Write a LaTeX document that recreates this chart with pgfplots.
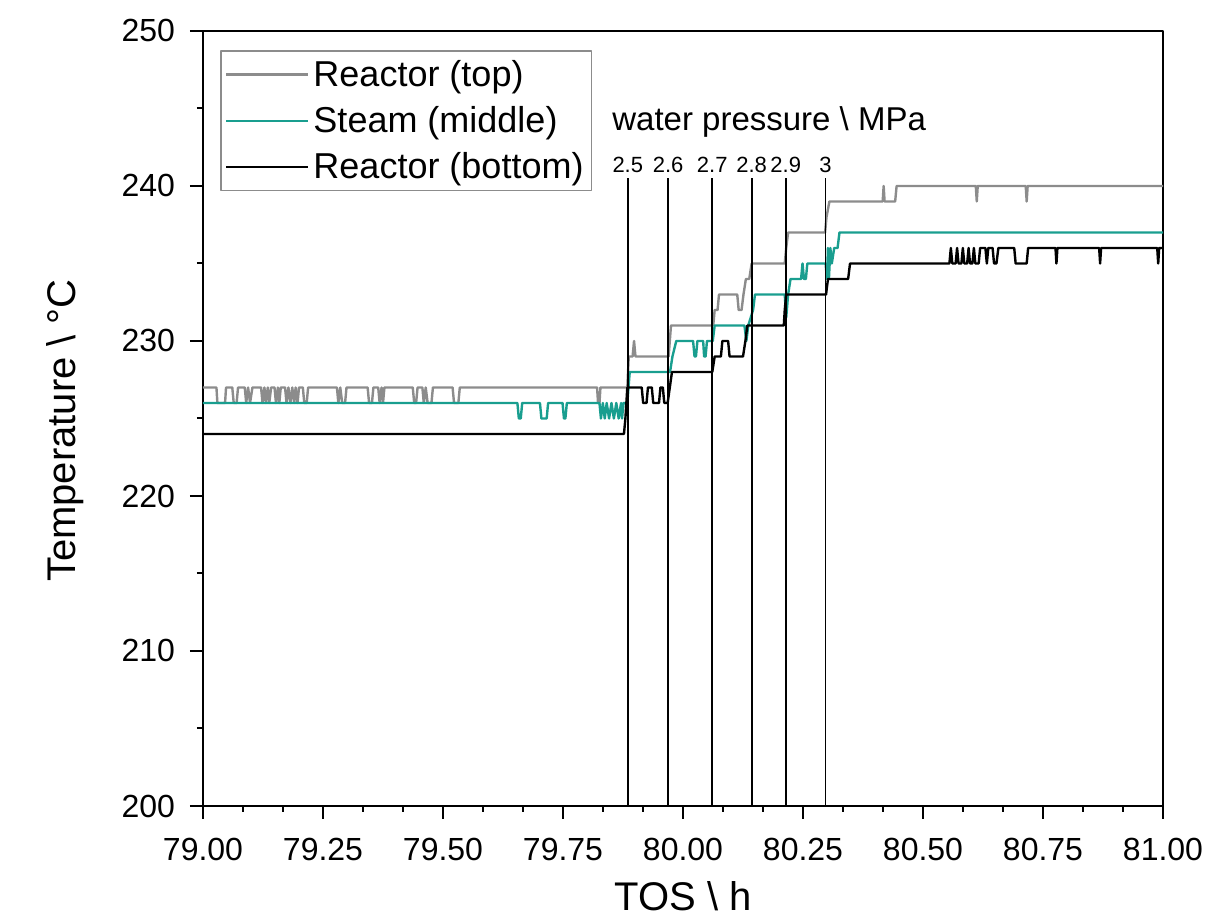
\documentclass[border=0pt]{standalone}
\usepackage{fontspec}
\setmainfont{Liberation Sans}
\usepackage{pgfplots}
\pgfplotsset{compat=1.18}
\definecolor{topgray}{RGB}{140,140,140}
\definecolor{steamteal}{RGB}{25,158,143}
\begin{document}
\begin{tikzpicture}[line join=round]
\begin{axis}[
  scale only axis,
  width=480pt, height=387.5pt,
  xmin=79, xmax=81, ymin=200, ymax=250,
  xtick={79,79.25,79.5,79.75,80,80.25,80.5,80.75,81},
  ytick={200,210,220,230,240,250},
  minor x tick num=2, minor y tick num=1,
  xtick pos=bottom, ytick pos=left,
  xtick align=outside, ytick align=outside,
  major tick length=6.5pt, minor tick length=3pt,
  tick style={black, line width=1pt},
  axis line style={black, line width=1.3pt},
  /pgf/number format/assume math mode=true,
  xticklabel style={/pgf/number format/.cd, fixed, fixed zerofill, precision=2},
  yticklabel style={/pgf/number format/.cd, fixed, precision=0},
  tick label style={font=\fontsize{16}{19}\selectfont},
  xticklabel shift=6pt,
  yticklabel shift=4pt,
  label style={font=\fontsize{20}{24}\selectfont},
  xlabel={TOS \textbackslash{} h},
  ylabel={Temperature \textbackslash{} °C},
  xlabel style={yshift=-3.5pt},
  ylabel style={yshift=12pt, xshift=-6pt},
  legend style={at={(0.018,0.975)}, anchor=north west, draw=topgray, line width=0.8pt,
    font=\fontsize{18}{21}\selectfont, inner xsep=2pt, inner ysep=2.5pt, row sep=4.5pt,
    cells={anchor=west}},
  legend image code/.code={\draw[#1, line width=1.2pt] (0pt,0pt) -- (41pt,0pt);},
  clip=false,
]
\addplot[topgray, line width=1.2pt] coordinates {
(79.000,227)
(79.028,227)(79.030,226)(79.046,226)(79.048,227)
(79.061,227)(79.064,226)(79.070,226)(79.073,227)
(79.087,227)(79.090,226)(79.094,227)(79.098,226)(79.103,227)
(79.121,227)(79.124,226)(79.128,227)(79.131,226)(79.135,227)(79.138,226)(79.142,227)
(79.149,227)(79.152,226)(79.156,227)(79.159,226)(79.162,227)
(79.171,227)(79.174,226)(79.178,227)(79.182,226)(79.186,227)(79.190,226)(79.193,227)(79.197,226)(79.200,227)
(79.208,227)(79.211,226)(79.216,226)(79.219,227)
(79.279,227)(79.282,226)(79.286,227)(79.290,226)(79.296,226)(79.299,227)
(79.343,227)(79.346,226)(79.352,226)(79.355,227)
(79.365,227)(79.368,226)(79.372,227)(79.375,226)(79.378,227)
(79.437,227)(79.440,226)(79.444,226)(79.447,227)
(79.457,227)(79.460,226)(79.464,227)(79.468,226)(79.476,226)(79.479,227)
(79.520,227)(79.523,226)(79.532,226)(79.535,227)
(79.821,227)(79.823,226)(79.826,226)(79.828,227)
(79.884,227)(79.887,229)
(79.895,229)(79.898,230)(79.901,229)
(79.970,229)(79.975,231)
(80.063,231)(80.066,232)(80.072,232)(80.075,233)
(80.113,233)(80.116,232)(80.122,232)(80.126,233)(80.131,234)(80.138,234)(80.143,235)
(80.212,235)(80.215,236)(80.219,237)
(80.296,237)(80.299,238)(80.305,239)
(80.416,239)(80.418,240)(80.420,239)
(80.442,239)(80.445,240)
(80.610,240)(80.612,239)(80.614,240)
(80.714,240)(80.716,239)(80.718,240)
(81.000,240)
};
\addlegendentry{Reactor (top)}
\addplot[steamteal, line width=1.2pt] coordinates {
(79.000,226)
(79.655,226)(79.658,225)(79.662,225)(79.665,226)
(79.702,226)(79.705,225)(79.716,225)(79.719,226)
(79.749,226)(79.752,225)(79.755,225)(79.758,226)
(79.826,226)(79.829,225)(79.833,226)(79.837,225)(79.841,226)(79.846,225)(79.851,226)(79.856,225)(79.861,226)(79.866,225)(79.871,226)(79.873,225)(79.876,226)
(79.884,226)(79.889,228)
(79.973,228)(79.978,229)(79.986,230)
(80.021,230)(80.024,229)(80.027,229)(80.030,230)
(80.042,230)(80.044,229)(80.047,229)(80.050,230)
(80.062,230)(80.066,231)
(80.128,231)(80.132,230)(80.136,231)(80.146,232)(80.150,233)
(80.212,233)(80.215,231.5)(80.219,233)(80.224,234)
(80.246,234)(80.249,235)(80.252,234)(80.256,234)(80.259,235)
(80.297,235)(80.300,234)(80.302,236)(80.304,234)(80.307,236)(80.310,235)(80.315,236)(80.322,236)(80.326,237)
(81.000,237)
};
\addlegendentry{Steam (middle)}
\addplot[black, line width=1.2pt] coordinates {
(79.000,224)(79.877,224)(79.880,225)(79.884,227)
(79.914,227)(79.917,226)(79.924,226)(79.927,227)(79.935,227)(79.938,226)(79.950,226)(79.953,227)(79.958,227)(79.961,226)(79.968,226)(79.977,228)
(80.061,228)(80.066,229)
(80.079,229)(80.082,230)(80.094,230)(80.097,229)
(80.125,229)(80.130,230)(80.134,231)
(80.210,231)(80.212,232)(80.215,233)
(80.298,233)(80.302,234)
(80.344,234)(80.348,235)
(80.555,235)(80.558,236)(80.561,235)(80.568,235)(80.571,236)(80.574,235)(80.580,235)(80.583,236)(80.586,235)(80.592,235)(80.595,236)(80.598,235)(80.603,235)(80.606,236)(80.609,235)(80.616,235)(80.619,236)(80.630,236)(80.633,235)(80.636,236)(80.645,236)(80.648,235)(80.653,235)(80.657,236)(80.690,236)(80.693,235)(80.716,235)(80.719,236)(80.776,236)(80.778,235)(80.780,236)(80.867,236)(80.869,235)(80.871,236)(80.988,236)(80.990,235)(80.992,236)(81.000,236)
};
\addlegendentry{Reactor (bottom)}
\addplot[black, line width=0.9pt, forget plot] coordinates {(79.885,200)(79.885,240.5)};
\addplot[black, line width=0.9pt, forget plot] coordinates {(79.969,200)(79.969,240.5)};
\addplot[black, line width=0.9pt, forget plot] coordinates {(80.061,200)(80.061,240.5)};
\addplot[black, line width=0.9pt, forget plot] coordinates {(80.143,200)(80.143,240.5)};
\addplot[black, line width=0.9pt, forget plot] coordinates {(80.214,200)(80.214,240.5)};
\addplot[black, line width=0.9pt, forget plot] coordinates {(80.297,200)(80.297,240.5)};
\foreach \xx/\lab in {79.885/2.5, 79.969/2.6, 80.061/2.7, 80.143/2.8, 80.214/2.9, 80.297/3} {
  \edef\tmp{\noexpand\node[anchor=south, inner sep=1pt, font=\noexpand\fontsize{11}{13}\noexpand\selectfont] at (axis cs:\xx,240.7) {\lab};}
  \tmp
}
\node[anchor=west, inner sep=0pt, font=\fontsize{16.5}{19}\selectfont] at (axis cs:79.852,244.1) {water pressure \textbackslash{} MPa};
\coordinate (bl) at (rel axis cs:0,0);
\coordinate (tr) at (rel axis cs:1,1);
\end{axis}
\pgfresetboundingbox
\useasboundingbox ([shift={(-101.5pt,-58pt)}]bl) rectangle ([shift={(26pt,15.5pt)}]tr);
\end{tikzpicture}
\end{document}
